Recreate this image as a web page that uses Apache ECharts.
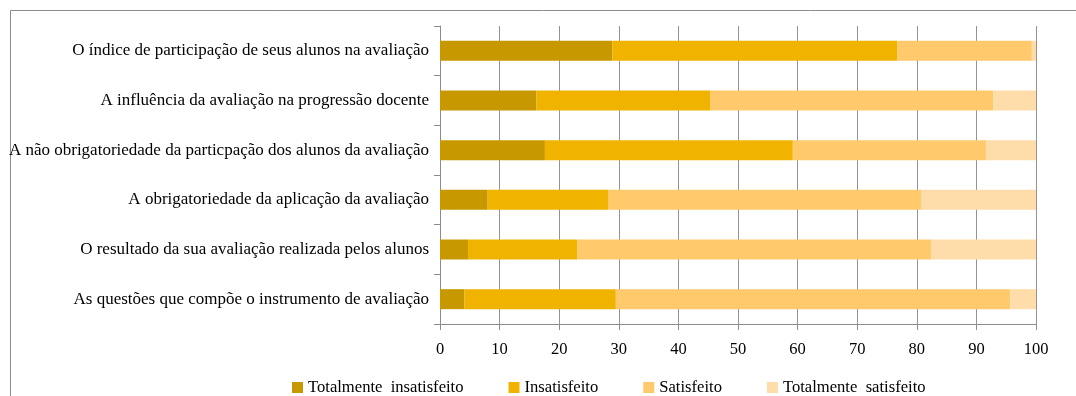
<!DOCTYPE html>
<html>
<head>
<meta charset="utf-8">
<style>
  html, body { margin: 0; padding: 0; background: #fff; }
  #chart { width: 1076px; height: 396px; }
</style>
<script src="https://cdn.jsdelivr.net/npm/echarts@6/dist/echarts.min.js"></script>
</head>
<body>
<div id="chart"></div>
<script>
// Items rated, listed top to bottom
const categories = [
  'O índice de participação de seus alunos na avaliação',
  'A influência da avaliação na progressão docente',
  'A não obrigatoriedade da particpação dos alunos da avaliação',
  'A obrigatoriedade da aplicação da avaliação',
  'O resultado da sua avaliação realizada pelos alunos',
  'As questões que compõe o instrumento de avaliação'
];

// Share of answers (%) per satisfaction level, same order as categories
const totalmenteInsatisfeito = [28.9, 16.2, 17.6, 8.0, 4.7, 4.1];
const insatisfeito           = [47.8, 29.2, 41.6, 20.3, 18.3, 25.4];
const satisfeito             = [22.6, 47.4, 32.4, 52.4, 59.4, 66.2];
const totalmenteSatisfeito   = [0.7, 7.2, 8.4, 19.3, 17.6, 4.3];

const seriesNames = [
  'Totalmente  insatisfeito',
  'Insatisfeito',
  'Satisfeito',
  'Totalmente  satisfeito'
];
const seriesValues = [totalmenteInsatisfeito, insatisfeito, satisfeito, totalmenteSatisfeito];
const seriesColors = ['#C89800', '#F0B400', '#FFC96C', '#FFDDAA'];

const xTicks = { min: 0, max: 100, interval: 10 };

const font = '"Liberation Serif", "Times New Roman", serif';

const chart = echarts.init(document.getElementById('chart'), null, { renderer: 'canvas' });

chart.setOption({
  animation: false,
  backgroundColor: '#ffffff',
  textStyle: { fontFamily: font },
  graphic: [{
    type: 'rect',
    silent: true,
    shape: { x: 10.5, y: 10.5, width: 1200, height: 600 },
    style: { fill: 'none', stroke: '#8c8c8c', lineWidth: 1 }
  }],
  grid: { left: 440, right: 40, top: 26, bottom: 72, containLabel: false },
  legend: {
    left: 292,
    top: 379,
    padding: 0,
    icon: 'rect',
    itemWidth: 11,
    itemHeight: 11,
    itemGap: 45,
    textStyle: { fontFamily: font, fontSize: 16.6, color: '#000' },
    data: seriesNames
  },
  xAxis: {
    type: 'value',
    min: xTicks.min,
    max: xTicks.max,
    interval: xTicks.interval,
    axisLine: { show: true, lineStyle: { color: '#8c8c8c', width: 1 } },
    axisTick: { show: true, length: 6, lineStyle: { color: '#8c8c8c' } },
    splitLine: { show: true, lineStyle: { color: '#939393', width: 1 } },
    axisLabel: { fontFamily: font, fontSize: 16.5, color: '#000', margin: 17 }
  },
  yAxis: {
    type: 'category',
    inverse: true,
    data: categories,
    axisLine: { show: true, lineStyle: { color: '#8c8c8c', width: 1 } },
    axisTick: { show: true, length: 6, lineStyle: { color: '#8c8c8c' } },
    splitLine: { show: false },
    axisLabel: { fontFamily: font, fontSize: 17, color: '#000', margin: 11 }
  },
  series: seriesNames.map((name, i) => ({
    name: name,
    type: 'bar',
    stack: 'total',
    barWidth: 20,
    itemStyle: { color: seriesColors[i] },
    data: seriesValues[i]
  }))
});
</script>
</body>
</html>
